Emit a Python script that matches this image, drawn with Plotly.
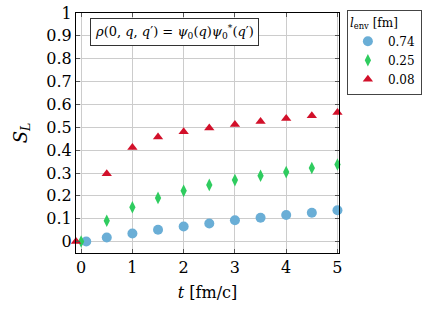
import plotly.graph_objects as go

t_blue = [0.1, 0.5, 1.0, 1.5, 2.0, 2.5, 3.0, 3.5, 4.0, 4.5, 5.0]
s_blue = [0.0, 0.018, 0.035, 0.052, 0.066, 0.079, 0.093, 0.104, 0.116, 0.126, 0.137]
t_green = [0.0, 0.5, 1.0, 1.5, 2.0, 2.5, 3.0, 3.5, 4.0, 4.5, 5.0]
s_green = [0.0, 0.091, 0.15, 0.191, 0.222, 0.248, 0.269, 0.288, 0.304, 0.322, 0.337]
t_red = [-0.1, 0.5, 1.0, 1.5, 2.0, 2.5, 3.0, 3.5, 4.0, 4.5, 5.0]
s_red = [0.0, 0.297, 0.412, 0.458, 0.481, 0.497, 0.512, 0.525, 0.538, 0.551, 0.565]
labels = ["0.74", "0.25", "0.08"]

FONT = "DejaVu Serif"
fig = go.Figure()
fig.add_trace(go.Scatter(x=t_blue, y=s_blue, mode="markers", name=labels[0], cliponaxis=False,
                         marker=dict(symbol="circle", size=10, color="#6aaed6")))
fig.add_trace(go.Scatter(x=t_green, y=s_green, mode="markers", name=labels[1], cliponaxis=False,
                         marker=dict(symbol="diamond-tall", size=9, color="#2fcc5f")))
fig.add_trace(go.Scatter(x=t_red, y=s_red, mode="markers", name=labels[2], cliponaxis=False,
                         marker=dict(symbol="triangle-up", size=9, color="#d2102a")))

axis_common = dict(showgrid=True, gridcolor="#cccccc", gridwidth=1, zeroline=False,
                   showline=True, linecolor="black", linewidth=1, mirror="ticks",
                   ticks="inside", ticklen=4, tickcolor="#555555",
                   tickfont=dict(family=FONT, size=16, color="black"))
fig.update_xaxes(range=[-0.1, 5.03], tickvals=[0, 1, 2, 3, 4, 5],
                 title=dict(text="<i>t</i> [fm/c]", font=dict(family=FONT, size=16, color="black"), standoff=10),
                 **axis_common)
fig.update_yaxes(range=[-0.05, 1.0], tickvals=[0, 0.1, 0.2, 0.3, 0.4, 0.5, 0.6, 0.7, 0.8, 0.9, 1],
                 ticktext=["0", "0.1", "0.2", "0.3", "0.4", "0.5", "0.6", "0.7", "0.8", "0.9", "1"],
                 title=dict(text="<i>S<sub>L</sub></i>", font=dict(family=FONT, size=18, color="black"), standoff=14),
                 **axis_common)

fig.add_annotation(xref="paper", yref="paper", x=0.055, y=0.98, xanchor="left", yanchor="top",
                   text="<i>ρ</i>(0, <i>q</i>, <i>q</i>′) = <i>ψ</i><sub>0</sub>(<i>q</i>)<i>ψ</i><sub>0</sub><sup>*</sup>(<i>q</i>′)",
                   showarrow=False, font=dict(family=FONT, size=13, color="black"),
                   bordercolor="#333333", borderwidth=1, borderpad=4, bgcolor="white")

fig.update_layout(
    width=436, height=309,
    margin=dict(l=76, r=97, t=13, b=56, autoexpand=False),
    paper_bgcolor="white", plot_bgcolor="white",
    font=dict(family=FONT, size=12, color="black"),
    legend=dict(x=1.03, y=1.012, xanchor="left", yanchor="top",
                title=dict(text="<i>l</i><sub>env</sub> [fm]", font=dict(family=FONT, size=12)),
                bordercolor="#444444", borderwidth=1, bgcolor="white",
                font=dict(family=FONT, size=12), itemwidth=30),
    showlegend=True,
)
fig.write_html("out.html", config={"displayModeBar": False},
               post_script="document.body.style.margin='0';")
